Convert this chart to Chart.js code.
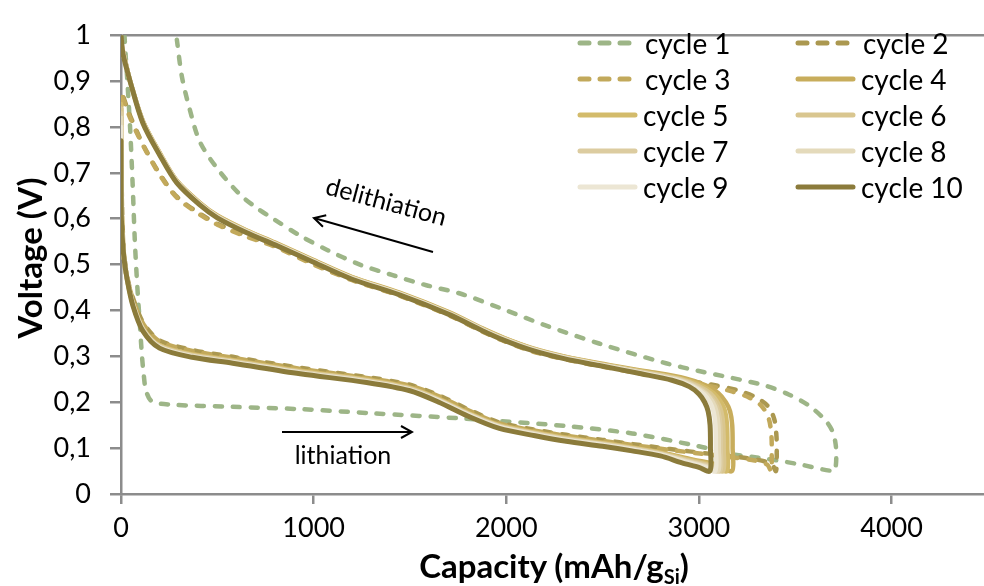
<!DOCTYPE html>
<html lang="en">
<head>
<meta charset="UTF-8">
<title>Voltage vs capacity</title>
<script src="https://cdn.jsdelivr.net/npm/chart.js"></script>
<style>
body{margin:0;background:#fff;font-family:Lato,"Open Sans",sans-serif;color:#000;}
.wrap{position:relative;width:984px;height:586px;overflow:hidden;}
canvas{position:absolute;left:0;top:0;}
.ytitle{position:absolute;left:29px;top:258px;transform:translate(-50%,-50%) rotate(-90deg);font-weight:bold;font-size:33px;line-height:1;white-space:nowrap;}
.xtitle{position:absolute;left:554px;top:549px;transform:translateX(-50%);font-weight:bold;font-size:33px;line-height:1;white-space:nowrap;}
.xtitle sub{font-size:20px;vertical-align:-6px;line-height:0;}
.legend{position:absolute;left:0;top:0;}
.item{position:absolute;height:30px;display:flex;align-items:center;font-size:28px;white-space:nowrap;}
.item svg{margin-right:6px;}
#notes{position:absolute;left:0;top:0;pointer-events:none;}
</style>
</head>
<body>
<div class="wrap">
<canvas id="chart" width="984" height="586"></canvas>
<svg id="notes" width="984" height="586"></svg>
<div class="legend" id="legend"></div>
<div class="ytitle">Voltage (V)</div>
<div class="xtitle">Capacity (mAh/g<sub>Si</sub>)</div>
</div>

<script>
// capacity in mAh/g, voltage in V; lithiation first, then delithiation
const cap1 = [18,25,33,47,60,72,85,98,109,118,130,160,250,580,927,1300,1793,2311,2653,3000,3171,3347,3518,3700,
  3710,3713,3710,3695,3658,3570,3466,3347,3171,3000,2829,2482,2200,1964,1760,1585,1410,1240,1070,930,790,700,617,497,409,357,316,290];
const volt1 = [1.0,0.95,0.9,0.8,0.68,0.55,0.45,0.37,0.3,0.26,0.225,0.202,0.195,0.19,0.185,0.176,0.164,0.148,0.132,0.104,0.087,0.077,0.065,0.05,
  0.06,0.08,0.108,0.135,0.16,0.193,0.217,0.236,0.253,0.268,0.285,0.328,0.368,0.406,0.437,0.455,0.477,0.5,0.532,0.563,0.6,0.625,0.653,0.711,0.768,0.838,0.91,0.99];

const cap2 = [0,4,14,35,70,120,200,370,580,930,1275,1500,1650,1800,1964,2150,2311,2500,2653,2850,3050,3171,3300,3378,3400,
  3404,3402,3390,3355,3290,3200,3070,2870,2700,2482,2300,2135,1990,1876,1705,1446,1200,1000,800,650,500,409,290,202,114,47,0];
const volt2 = [0.86,0.66,0.535,0.468,0.418,0.37,0.335,0.314,0.299,0.275,0.255,0.238,0.215,0.185,0.156,0.14,0.129,0.118,0.109,0.098,0.088,0.082,0.075,0.065,0.05,
  0.09,0.13,0.165,0.193,0.212,0.226,0.238,0.251,0.263,0.28,0.295,0.312,0.334,0.355,0.39,0.433,0.467,0.502,0.541,0.563,0.589,0.611,0.648,0.697,0.762,0.825,0.88];

const cap3 = [0,4,14,35,70,120,200,370,580,930,1275,1500,1650,1800,1964,2150,2311,2500,2653,2850,3050,3171,3290,3355,3375,
  3378,3376,3362,3325,3262,3175,3050,2860,2700,2482,2300,2135,1990,1876,1705,1446,1200,1000,800,650,500,409,290,202,114,47,0];
const volt3 = [0.84,0.65,0.53,0.465,0.415,0.368,0.333,0.312,0.297,0.273,0.253,0.236,0.213,0.183,0.154,0.138,0.127,0.116,0.107,0.096,0.086,0.08,0.073,0.064,0.05,
  0.09,0.13,0.165,0.192,0.21,0.223,0.236,0.25,0.262,0.279,0.294,0.311,0.333,0.354,0.389,0.432,0.466,0.5,0.539,0.561,0.587,0.609,0.646,0.695,0.76,0.82,0.875];

const cap4 = [0,2,14,31,62,114,200,370,580,930,1275,1500,1650,1800,1964,2150,2311,2500,2653,2800,2970,3095,3172,
  3175,3173,3162,3140,3100,3035,2930,2735,2482,2300,2135,1990,1876,1705,1446,1200,1000,800,650,500,409,290,202,114,47,10,0];
const volt4 = [0.86,0.6,0.52,0.47,0.417,0.362,0.325,0.305,0.292,0.269,0.25,0.232,0.208,0.178,0.151,0.135,0.123,0.112,0.102,0.091,0.075,0.064,0.05,
  0.1,0.15,0.18,0.2,0.22,0.237,0.252,0.267,0.285,0.3,0.318,0.34,0.361,0.396,0.439,0.473,0.51,0.548,0.575,0.607,0.635,0.683,0.743,0.813,0.9,0.965,0.97];

const cap5 = [0,2,14,31,62,114,200,370,580,930,1275,1500,1650,1800,1964,2150,2311,2500,2653,2800,2960,3075,3145,
  3148,3146,3136,3115,3078,3015,2915,2725,2482,2300,2135,1990,1876,1705,1446,1200,1000,800,650,500,409,290,202,114,47,10,0];
const volt5 = [0.85,0.6,0.52,0.47,0.416,0.361,0.324,0.304,0.291,0.268,0.249,0.231,0.207,0.177,0.15,0.134,0.122,0.111,0.101,0.09,0.074,0.063,0.05,
  0.1,0.15,0.18,0.2,0.219,0.236,0.251,0.266,0.284,0.299,0.317,0.339,0.36,0.395,0.438,0.472,0.509,0.547,0.574,0.606,0.634,0.682,0.742,0.812,0.9,0.965,0.98];

const cap6 = [0,2,14,31,62,114,200,370,580,930,1275,1500,1650,1800,1964,2150,2311,2500,2653,2800,2950,3060,3125,
  3128,3126,3116,3096,3060,3000,2905,2720,2482,2300,2135,1990,1876,1705,1446,1200,1000,800,650,500,409,290,202,114,47,10,0];
const volt6 = [0.84,0.6,0.52,0.47,0.415,0.36,0.323,0.303,0.29,0.267,0.248,0.23,0.206,0.176,0.149,0.133,0.121,0.11,0.1,0.089,0.073,0.062,0.05,
  0.1,0.15,0.18,0.2,0.219,0.235,0.25,0.265,0.283,0.298,0.316,0.338,0.359,0.394,0.437,0.471,0.508,0.546,0.573,0.605,0.633,0.681,0.741,0.811,0.9,0.965,0.98];

const cap7 = [0,2,14,31,62,114,200,370,580,930,1275,1500,1650,1800,1964,2150,2311,2500,2653,2800,2945,3048,3110,
  3113,3111,3101,3082,3046,2988,2895,2715,2482,2300,2135,1990,1876,1705,1446,1200,1000,800,650,500,409,290,202,114,47,10,0];
const volt7 = [0.83,0.6,0.52,0.47,0.414,0.359,0.322,0.302,0.289,0.266,0.247,0.229,0.205,0.175,0.148,0.132,0.12,0.109,0.099,0.088,0.072,0.061,0.05,
  0.1,0.15,0.18,0.2,0.218,0.235,0.25,0.265,0.283,0.298,0.316,0.338,0.359,0.394,0.437,0.471,0.508,0.546,0.573,0.605,0.633,0.681,0.741,0.811,0.9,0.965,0.99];

const cap8 = [0,2,14,31,62,114,200,370,580,930,1275,1500,1650,1800,1964,2150,2311,2500,2653,2800,2940,3040,3100,
  3103,3101,3091,3072,3038,2980,2890,2710,2482,2300,2135,1990,1876,1705,1446,1200,1000,800,650,500,409,290,202,114,47,10,0];
const volt8 = [0.82,0.6,0.52,0.47,0.413,0.358,0.321,0.301,0.288,0.265,0.246,0.228,0.204,0.174,0.147,0.131,0.119,0.108,0.098,0.087,0.071,0.06,0.05,
  0.1,0.15,0.18,0.2,0.218,0.234,0.249,0.264,0.282,0.297,0.315,0.337,0.358,0.393,0.436,0.47,0.507,0.545,0.572,0.604,0.632,0.68,0.74,0.81,0.9,0.965,0.99];

const cap9 = [0,2,14,31,62,114,200,370,580,930,1275,1500,1650,1800,1964,2150,2311,2500,2653,2800,2930,3030,3085,
  3088,3086,3076,3058,3025,2970,2880,2700,2482,2300,2135,1990,1876,1705,1446,1200,1000,800,650,500,409,290,202,114,47,10,0];
const volt9 = [0.8,0.6,0.52,0.47,0.412,0.357,0.32,0.3,0.287,0.264,0.245,0.227,0.203,0.173,0.146,0.13,0.118,0.107,0.097,0.086,0.07,0.059,0.05,
  0.1,0.15,0.18,0.2,0.218,0.234,0.249,0.264,0.282,0.297,0.315,0.337,0.358,0.393,0.436,0.47,0.507,0.545,0.572,0.604,0.632,0.68,0.74,0.81,0.9,0.96,0.99];

const cap10 = [0,2,14,31,62,114,200,370,580,930,1275,1500,1650,1800,1964,2150,2311,2500,2653,2800,2912,3000,3057,
  3060,3058,3048,3030,3000,2950,2860,2700,2482,2300,2135,1990,1876,1705,1446,1200,1000,800,650,500,409,290,202,114,47,10,0];
const volt10 = [0.77,0.6,0.52,0.47,0.41,0.355,0.318,0.298,0.285,0.262,0.243,0.225,0.2,0.17,0.143,0.127,0.115,0.104,0.094,0.083,0.068,0.058,0.05,
  0.1,0.15,0.18,0.2,0.218,0.234,0.248,0.262,0.28,0.295,0.313,0.335,0.356,0.391,0.434,0.468,0.505,0.543,0.57,0.602,0.63,0.678,0.738,0.808,0.9,0.96,1.0];

const seriesNames = ['cycle 1','cycle 2','cycle 3','cycle 4','cycle 5','cycle 6','cycle 7','cycle 8','cycle 9','cycle 10'];
const caps = [cap1,cap2,cap3,cap4,cap5,cap6,cap7,cap8,cap9,cap10];
const volts = [volt1,volt2,volt3,volt4,volt5,volt6,volt7,volt8,volt9,volt10];
const yTicks = [0,0.1,0.2,0.3,0.4,0.5,0.6,0.7,0.8,0.9,1];
const xTicks = [0,1000,2000,3000,4000];

const colors = ['#9db587','#ab9850','#c2a95b','#c8ad5c','#d3bb6b','#d9c68f','#dccca0','#e4dabb','#ece6d4','#8b7b3b'];
const dashed = [true,true,true,false,false,false,false,false,false,false];
const axisGray = '#8c8c8c';

const datasets = seriesNames.map((name,i)=>({
    label:name,
    data:caps[i].map((c,j)=>({x:c,y:volts[i][j]})),
    borderColor:colors[i],
    borderWidth:i===9?5:4.5,
    borderDash:dashed[i]?[7,11]:[],
    borderCapStyle:'round',
    borderJoinStyle:'round',
    showLine:true,
    pointRadius:0,
    tension:0.3,
    order:10-i
}));

new Chart(document.getElementById('chart'),{
    type:'scatter',
    data:{datasets:datasets},
    options:{
        responsive:false,
        animation:false,
        layout:{padding:{top:24,right:0,left:0,bottom:0}},
        plugins:{legend:{display:false},tooltip:{enabled:false}},
        scales:{
            x:{
                type:'linear',min:0,max:4480,
                afterFit:s=>{s.height=92;},
                afterBuildTicks:s=>{s.ticks=xTicks.map(v=>({value:v}));},
                border:{color:axisGray,width:2.5},
                grid:{color:'transparent',tickColor:axisGray,tickLength:10,lineWidth:2.5},
                ticks:{color:'#000',font:{family:'Lato',size:27},padding:8,maxRotation:0,
                    callback:v=>String(v)}
            },
            y:{
                type:'linear',min:0,max:1,
                afterFit:s=>{s.width=121;},
                afterBuildTicks:s=>{s.ticks=yTicks.map(v=>({value:v}));},
                border:{color:axisGray,width:2.5},
                grid:{
                    color:c=>(c.tick && c.tick.value===1)?axisGray:'transparent',
                    tickColor:axisGray,tickLength:11,lineWidth:2.5
                },
                ticks:{
                    color:'#000',font:{family:'Lato',size:27},padding:19,
                    callback:v=>{
                        if(v===0) return '0';
                        if(v===1) return '1';
                        return (Math.round(v*10)/10).toFixed(1).replace('.',',');
                    }
                }
            }
        }
    }
});

// legend, two columns
const legend = document.getElementById('legend');
seriesNames.forEach((name,i)=>{
    const col = i%2, row = Math.floor(i/2);
    const item = document.createElement('div');
    item.className='item';
    item.style.left = (col===0?577:795)+'px';
    item.style.top = (43+row*36-15)+'px';
    const dash = dashed[i]?'stroke-dasharray="9 11"':'';
    const len = dashed[i]?52:58;
    item.innerHTML = `<svg width="62" height="10"><line x1="3" y1="5" x2="${len}" y2="5" stroke="${colors[i]}" stroke-width="5" stroke-linecap="round" ${dash}/></svg>${name}`;
    if(!dashed[i]) item.querySelector('svg').style.marginRight='4px';
    legend.appendChild(item);
});

// annotations
document.getElementById('notes').innerHTML = `
<defs>
<marker id="head" markerWidth="14" markerHeight="14" refX="12" refY="7" orient="auto" markerUnits="userSpaceOnUse">
<path d="M1,1 L12,7 L1,13" fill="none" stroke="#000" stroke-width="2"/>
</marker>
</defs>
<line x1="433" y1="252" x2="314" y2="218" stroke="#000" stroke-width="2" marker-end="url(#head)"/>
<text x="384" y="210" font-family="Lato" font-size="25" text-anchor="middle" transform="rotate(15 384 210)">delithiation</text>
<line x1="282" y1="432" x2="412" y2="432" stroke="#000" stroke-width="2" marker-end="url(#head)"/>
<text x="343" y="464" font-family="Lato" font-size="25" text-anchor="middle">lithiation</text>
`;
</script>
</body>
</html>
